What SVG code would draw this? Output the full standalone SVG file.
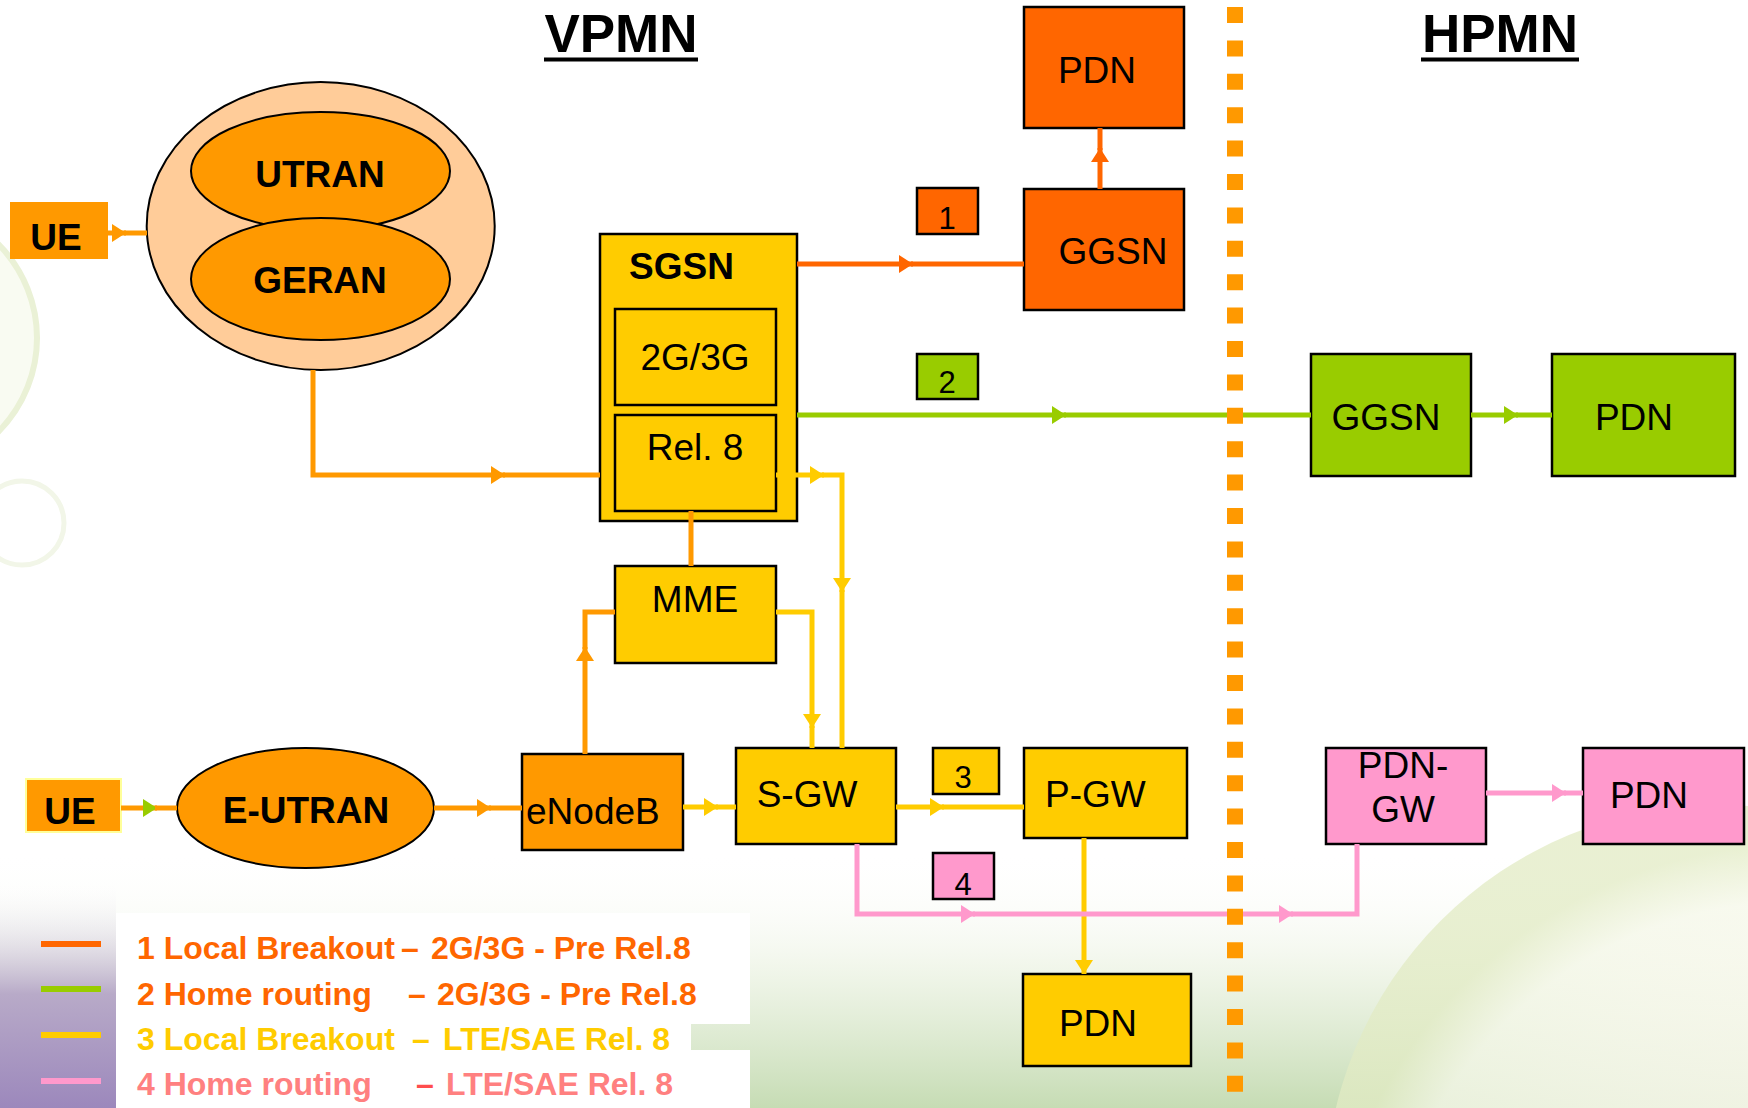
<svg xmlns="http://www.w3.org/2000/svg" width="1748" height="1108" viewBox="0 0 1748 1108">
<defs>
<style>
.lbl{font-family:"Liberation Sans",Arial,sans-serif;font-size:37px;fill:#000;text-anchor:middle}
.b{font-weight:bold}
.num{font-family:"Liberation Sans",Arial,sans-serif;font-size:31px;fill:#000;text-anchor:middle}
.title{font-family:"Liberation Sans",Arial,sans-serif;font-size:53px;font-weight:bold;fill:#000;text-anchor:middle}
.box{stroke:#000;stroke-width:2.5}
.leg{font-family:"Liberation Sans",Arial,sans-serif;font-size:32px;font-weight:bold}
.c{fill:none;stroke-width:5}
.o1{stroke:#FF6600}.o2{stroke:#FF9900}.y{stroke:#FFCC00}.g{stroke:#99CC00}.p{stroke:#FF99CC}
</style>
<marker id="aO1" markerUnits="userSpaceOnUse" markerWidth="14" markerHeight="18" viewBox="0 0 14 18" refX="14" refY="9" orient="auto"><path d="M0,0 L14,9 L0,18 z" fill="#FF6600"/></marker>
<marker id="aO2" markerUnits="userSpaceOnUse" markerWidth="14" markerHeight="18" viewBox="0 0 14 18" refX="14" refY="9" orient="auto"><path d="M0,0 L14,9 L0,18 z" fill="#FF9900"/></marker>
<marker id="aY" markerUnits="userSpaceOnUse" markerWidth="14" markerHeight="18" viewBox="0 0 14 18" refX="14" refY="9" orient="auto"><path d="M0,0 L14,9 L0,18 z" fill="#FFCC00"/></marker>
<marker id="aG" markerUnits="userSpaceOnUse" markerWidth="14" markerHeight="18" viewBox="0 0 14 18" refX="14" refY="9" orient="auto"><path d="M0,0 L14,9 L0,18 z" fill="#99CC00"/></marker>
<marker id="aP" markerUnits="userSpaceOnUse" markerWidth="14" markerHeight="18" viewBox="0 0 14 18" refX="14" refY="9" orient="auto"><path d="M0,0 L14,9 L0,18 z" fill="#FF99CC"/></marker>
<linearGradient id="bot" x1="0" y1="0" x2="0" y2="1">
<stop offset="0" stop-color="#ffffff" stop-opacity="0"/>
<stop offset="0.45" stop-color="#eef4e6" stop-opacity="0.8"/>
<stop offset="1" stop-color="#c6dcb4"/>
</linearGradient>
<linearGradient id="purp" x1="0" y1="0" x2="0" y2="1">
<stop offset="0" stop-color="#ffffff" stop-opacity="0"/>
<stop offset="0.5" stop-color="#b8aac8"/>
<stop offset="1" stop-color="#9c88bc"/>
</linearGradient>
<radialGradient id="sph" cx="0.6" cy="0.65" r="0.6">
<stop offset="0" stop-color="#fbdcae"/>
<stop offset="0.45" stop-color="#fdfaf2"/>
<stop offset="0.88" stop-color="#f6f8ea"/>
<stop offset="1" stop-color="#e2ebc4"/>
</radialGradient>
</defs>

<g id="background">
<rect x="0" y="0" width="1748" height="1108" fill="#ffffff"/>
<circle cx="-96" cy="338" r="133" fill="#f9fbf2" stroke="#eaf1d6" stroke-width="6"/>
<circle cx="22" cy="523" r="42" fill="none" stroke="#f2f6e8" stroke-width="5"/>
<rect x="0" y="850" width="1748" height="258" fill="url(#bot)"/>
<rect x="0" y="880" width="116" height="228" fill="url(#purp)"/>
<circle cx="1720" cy="1200" r="395" fill="url(#sph)" opacity="0.75"/>
<path d="M116,913 H750 V1024 H691 V1050 H750 V1108 H116 Z" fill="#ffffff"/>
</g>

<g id="titles">
<text class="title" x="621" y="52">VPMN</text>
<rect x="544" y="57.5" width="154" height="4" fill="#000"/>
<text class="title" x="1500" y="52">HPMN</text>
<rect x="1421" y="57.5" width="158" height="4" fill="#000"/>
</g>

<g id="ue1"><rect x="10" y="202" width="98" height="57" fill="#FF9900"/><text class="lbl b" x="56" y="250">UE</text></g>
<g id="ran">
<ellipse cx="320.7" cy="226" rx="174" ry="144" fill="#FFCC99" stroke="#000" stroke-width="2"/>
<g id="utran"><ellipse cx="320.5" cy="171" rx="129.5" ry="59" fill="#FF9900" stroke="#000" stroke-width="2"/><text class="lbl b" x="320" y="187" font-size="36">UTRAN</text></g>
<g id="geran"><ellipse cx="320.5" cy="279" rx="129.5" ry="61" fill="#FF9900" stroke="#000" stroke-width="2"/><text class="lbl b" x="320" y="293" font-size="36">GERAN</text></g>
</g>
<g id="pdn-orange"><rect class="box" x="1024" y="7" width="160" height="121" fill="#FF6600"/><text class="lbl" x="1097" y="83">PDN</text></g>
<g id="ggsn-orange"><rect class="box" x="1024" y="189" width="160" height="121" fill="#FF6600"/><text class="lbl" x="1113" y="264">GGSN</text></g>
<g id="label1"><rect class="box" x="917" y="188" width="61" height="46" fill="#FF6600" stroke-width="2"/><text class="num" x="947" y="229">1</text></g>
<g id="sgsn">
<rect class="box" x="600" y="234" width="197" height="287" fill="#FFCC00"/>
<text class="lbl b" x="629" y="279" font-size="36" style="text-anchor:start">SGSN</text>
<g id="sgsn-2g3g"><rect class="box" x="615" y="309" width="161" height="96" fill="#FFCC00" stroke-width="2"/><text class="lbl" x="695" y="370">2G/3G</text></g>
<g id="sgsn-rel8"><rect class="box" x="615" y="415" width="161" height="96" fill="#FFCC00" stroke-width="2"/><text class="lbl" x="695" y="460">Rel. 8</text></g>
</g>
<g id="label2"><rect class="box" x="917" y="354" width="61" height="45" fill="#99CC00" stroke-width="2"/><text class="num" x="947" y="393">2</text></g>
<g id="ggsn-green"><rect class="box" x="1311" y="354" width="160" height="122" fill="#99CC00"/><text class="lbl" x="1386" y="430">GGSN</text></g>
<g id="pdn-green"><rect class="box" x="1552" y="354" width="183" height="122" fill="#99CC00"/><text class="lbl" x="1634" y="430">PDN</text></g>
<g id="mme"><rect class="box" x="615" y="566" width="161" height="97" fill="#FFCC00"/><text class="lbl" x="695" y="612">MME</text></g>
<g id="ue2"><rect x="26" y="779" width="95" height="53" fill="#FF9900" stroke="#FFFF99" stroke-width="2"/><text class="lbl b" x="70" y="824">UE</text></g>
<g id="eutran"><ellipse cx="305.5" cy="808" rx="128.5" ry="60" fill="#FF9900" stroke="#000" stroke-width="2"/><text class="lbl b" x="306" y="823" font-size="36">E-UTRAN</text></g>
<g id="enodeb"><rect class="box" x="522" y="754" width="161" height="96" fill="#FF9900"/><text class="lbl" x="526" y="824" style="text-anchor:start">eNodeB</text></g>
<g id="sgw"><rect class="box" x="736" y="748" width="160" height="96" fill="#FFCC00"/><text class="lbl" x="807" y="807">S-GW</text></g>
<g id="label3"><rect class="box" x="933" y="748" width="66" height="46" fill="#FFCC00" stroke-width="2"/><text class="num" x="963" y="788">3</text></g>
<g id="pgw"><rect class="box" x="1024" y="748" width="163" height="90" fill="#FFCC00"/><text class="lbl" x="1045" y="807" style="text-anchor:start">P-GW</text></g>
<g id="label4"><rect class="box" x="933" y="853" width="61" height="46" fill="#FF99CC" stroke-width="2"/><text class="num" x="963" y="895">4</text></g>
<g id="pdn-yellow"><rect class="box" x="1023" y="974" width="168" height="92" fill="#FFCC00"/><text class="lbl" x="1098" y="1036">PDN</text></g>
<g id="pdngw"><rect class="box" x="1326" y="748" width="160" height="96" fill="#FF99CC"/><text class="lbl" x="1403" y="778">PDN-</text><text class="lbl" x="1403" y="822">GW</text></g>
<g id="pdn-pink"><rect class="box" x="1583" y="748" width="161" height="96" fill="#FF99CC"/><text class="lbl" x="1649" y="808">PDN</text></g>

<g id="connectors">
<path class="c o2" d="M108,233 H126" marker-end="url(#aO2)"/><path class="c o2" d="M124,233 H147"/>
<path class="c o2" d="M313,370 V475 H505" marker-end="url(#aO2)"/><path class="c o2" d="M503,475 H600"/>
<path class="c o1" d="M797,264 H913" marker-end="url(#aO1)"/><path class="c o1" d="M911,264 H1024"/>
<path class="c o1" d="M1100,189 V148" marker-end="url(#aO1)"/><path class="c o1" d="M1100,150 V128"/>
<path class="c g" d="M797,415 H1066" marker-end="url(#aG)"/><path class="c g" d="M1064,415 H1311"/>
<path class="c g" d="M1471,415 H1518" marker-end="url(#aG)"/><path class="c g" d="M1516,415 H1552"/>
<path class="c y" d="M776,475 H824" marker-end="url(#aY)"/><path class="c y" d="M822,475 H842 V592" marker-end="url(#aY)"/><path class="c y" d="M842,590 V748"/>
<path class="c o2" d="M691,511 V566"/>
<path class="c o2" d="M585,754 V647" marker-end="url(#aO2)"/><path class="c o2" d="M585,649 V612 H615"/>
<path class="c y" d="M776,612 H812 V728" marker-end="url(#aY)"/><path class="c y" d="M812,726 V748"/>
<path class="c o2" d="M121,808 H157" marker-end="url(#aG)"/><path class="c o2" d="M155,808 H177"/>
<path class="c o2" d="M434,808 H491" marker-end="url(#aO2)"/><path class="c o2" d="M489,808 H522"/>
<path class="c y" d="M683,807 H718" marker-end="url(#aY)"/><path class="c y" d="M716,807 H736"/>
<path class="c y" d="M896,807 H944" marker-end="url(#aY)"/><path class="c y" d="M942,807 H1024"/>
<path class="c y" d="M1084,838 V974" marker-end="url(#aY)"/>
<path class="c p" d="M857,844 V914 H975" marker-end="url(#aP)"/><path class="c p" d="M973,914 H1293" marker-end="url(#aP)"/><path class="c p" d="M1291,914 H1357 V844"/>
<path class="c p" d="M1486,793 H1566" marker-end="url(#aP)"/><path class="c p" d="M1564,793 H1583"/>
</g>

<g id="border">
<line x1="1235" y1="7" x2="1235" y2="1108" stroke="#FF9900" stroke-width="16" stroke-dasharray="16 17.4"/>
</g>

<g id="legend">
<line x1="41" y1="944" x2="101" y2="944" stroke="#FF6600" stroke-width="6"/>
<line x1="41" y1="989" x2="101" y2="989" stroke="#99CC00" stroke-width="6"/>
<line x1="41" y1="1035" x2="101" y2="1035" stroke="#FFCC00" stroke-width="6"/>
<line x1="41" y1="1081" x2="101" y2="1081" stroke="#FF99CC" stroke-width="6"/>
<text class="leg" y="959" fill="#FF6600"><tspan x="137">1 Local Breakout</tspan><tspan x="401">–</tspan><tspan x="431">2G/3G - Pre Rel.8</tspan></text>
<text class="leg" y="1005" fill="#FF6600"><tspan x="137">2 Home routing</tspan><tspan x="408">–</tspan><tspan x="437">2G/3G - Pre Rel.8</tspan></text>
<text class="leg" y="1050" fill="#FFCC00"><tspan x="137">3 Local Breakout</tspan><tspan x="412">–</tspan><tspan x="443">LTE/SAE Rel. 8</tspan></text>
<text class="leg" y="1095" fill="#FF8080"><tspan x="137">4 Home routing</tspan><tspan x="416" fill="#FF4D4D">–</tspan><tspan x="446">LTE/SAE Rel. 8</tspan></text>
</g>
</svg>
